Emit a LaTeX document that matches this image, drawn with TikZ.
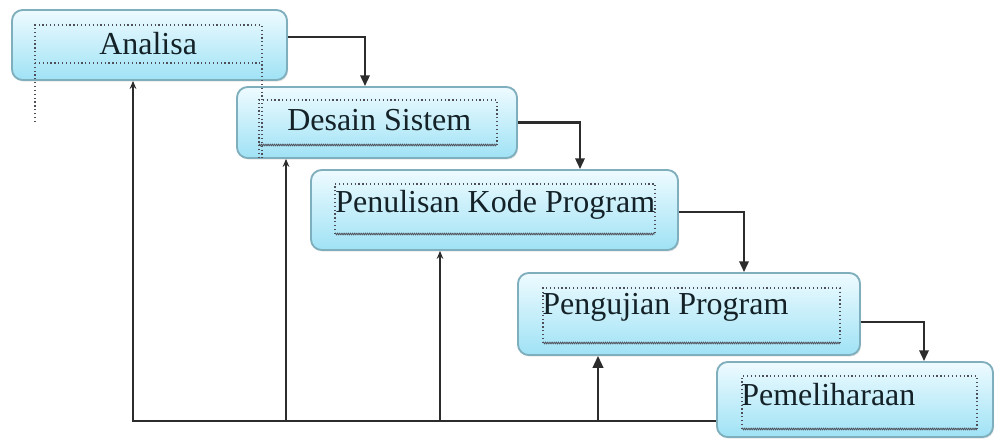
\documentclass[tikz,border=0pt]{standalone}
\usepackage{fontspec}
\setmainfont{Liberation Serif}
\usetikzlibrary{arrows.meta,calc,fit,shadows,decorations.pathmorphing}

\definecolor{boxedge}{HTML}{7FAEBD}
\definecolor{boxtop}{HTML}{EEFBFF}
\definecolor{boxbot}{HTML}{9FE2F5}
\definecolor{ink}{HTML}{142228}
\definecolor{guide}{HTML}{4E4E58}
\definecolor{wire}{HTML}{2C2C2C}

\tikzset{
  stage/.style={draw=boxedge, line width=1.4pt, rounded corners=8pt,
    top color=boxtop, bottom color=boxbot, inner sep=0pt,
    drop shadow={opacity=0.2, shadow xshift=0.8pt, shadow yshift=-1.2pt}},
  label/.style={anchor=base west, inner sep=0pt, text=ink,
    font=\fontsize{24}{28}\selectfont},
  frame/.style={draw=guide, line width=0.9pt, dotted},
  squiggle/.style={draw=guide, line width=0.6pt,
    decorate, decoration={zigzag, amplitude=0.6pt, segment length=1.6pt}},
  flow/.style={draw=wire, line width=1.6pt, -{Triangle[width=7pt,length=8pt]}},
  back/.style={draw=wire, line width=1.6pt, -{Stealth[width=5pt,length=6pt,inset=2pt]}},
  backbig/.style={draw=wire, line width=1.6pt, -{Triangle[width=8pt,length=9pt]}},
}

\begin{document}
\begin{tikzpicture}[x=0.75pt,y=-0.75pt]
  \useasboundingbox (0,0) rectangle (995,441);

  % stage boxes
  \node[stage, fit={(12,10)(287,80)}]   (a) {};
  \node[stage, fit={(237,87)(517,158)}] (b) {};
  \node[stage, fit={(311,170)(678,250)}] (c) {};
  \node[stage, fit={(518,273)(860,355)}] (d) {};
  \node[stage, fit={(717,362)(993,437)}] (e) {};

  % dotted text frames
  \draw[frame] (35,122) -- (35,25) -- (262,25) -- (262,158);
  \draw[frame] (35,63) -- (262,63);
  \draw[frame] (259,158) -- (259,100) -- (497,100) -- (497,145);
  \draw[squiggle] (259,145) -- (497,145);
  \draw[frame] (335,234) -- (335,184) -- (655,184) -- (655,234);
  \draw[squiggle] (335,234) -- (655,234);
  \draw[frame] (543,343) -- (543,288) -- (840,288) -- (840,343);
  \draw[squiggle] (543,343) -- (840,343);
  \draw[frame] (742,429) -- (742,376) -- (977,376) -- (977,429);
  \draw[squiggle] (742,429) -- (977,429);

  % stage titles
  \node[label] (ta) at (99,55)  {Analisa};
  \node[label] (tb) at (287,131) {Desain Sistem};
  \node[label] (tc) at (335,213) {Penulisan Kode Program};
  \node[label] (td) at (542,315) {Pengujian Program};
  \node[label] (te) at (741,405) {Pemeliharaan};

  % forward flow
  \draw[flow] ($(a.east)+(0,-8)$)  -| ($(b.north)+(-12,0)$);
  \draw[flow] (b.east)             -| ($(c.north)+(85.5,0)$);
  \draw[flow] ($(c.east)+(0,2)$)   -| ($(d.north)+(55,0)$);
  \draw[flow] ($(d.east)+(0,8)$)   -| ($(e.north)+(69,0)$);

  % feedback loops
  \coordinate (base) at ($(e.west)+(0,21.5)$);
  \coordinate (ra) at ($(a.south)+(-16.5,0)$);
  \coordinate (rb) at ($(b.south)+(-91,0)$);
  \coordinate (rc) at ($(c.south)+(-54.5,0)$);
  \coordinate (rd) at ($(d.south)+(-91,0)$);
  \draw[back] (base) -| (ra);
  \draw[back] (rb |- base) -- (rb);
  \draw[back] (rc |- base) -- (rc);
  \draw[backbig] (rd |- base) -- (rd);
\end{tikzpicture}
\end{document}
